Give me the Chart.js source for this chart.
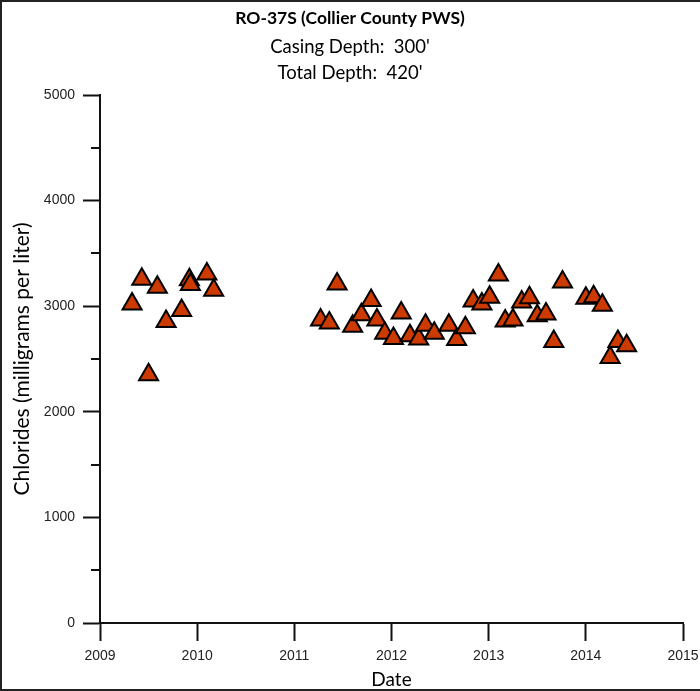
<!DOCTYPE html>
<html lang="en">
<head>
  <meta charset="UTF-8">
  <title>RO-37S Chlorides</title>
  <script src="https://cdn.jsdelivr.net/npm/chart.js"></script>
  <style>
    body {
      margin: 0;
      background: #fff;
    }
    canvas {
      display: block;
    }
  </style>
</head>
<body>
  <canvas id="chlorideChart" width="700" height="691"></canvas>
  <script>
    // sample dates as decimal years
    const sampleYears = [
      2009.33, 2009.43, 2009.50, 2009.59, 2009.68, 2009.84, 2009.92, 2009.93, 2010.10, 2010.17,
      2011.27, 2011.36, 2011.44, 2011.60, 2011.69, 2011.79, 2011.85, 2011.93, 2012.02, 2012.10,
      2012.19, 2012.28, 2012.35, 2012.44, 2012.59, 2012.67, 2012.76, 2012.84, 2012.93, 2013.01,
      2013.10, 2013.17, 2013.25, 2013.34, 2013.42, 2013.50, 2013.59, 2013.67, 2013.76, 2014.00,
      2014.08, 2014.17, 2014.25, 2014.33, 2014.42
    ];
    // chlorides, mg/L
    const chlorides = [
      3020, 3255, 2350, 3180, 2855, 2960, 3250, 3205, 3305, 3150,
      2870, 2840, 3210, 2810, 2920, 3055, 2870, 2745, 2695, 2935,
      2720, 2690, 2820, 2745, 2820, 2685, 2795, 3050, 3020, 3085,
      3295, 2860, 2870, 3040, 3080, 2910, 2925, 2665, 3230, 3075,
      3090, 3010, 2515, 2665, 2625
    ];
    const yearTicks = [2009, 2010, 2011, 2012, 2013, 2014, 2015];
    const minorChlorideTicks = [500, 1500, 2500, 3500, 4500];

    const points = sampleYears.map((yr, i) => ({ x: yr, y: chlorides[i] }));

    // short minor ticks on the y axis and the frame round the picture
    const extrasPlugin = {
      id: "extras",
      afterDraw(chart) {
        const ctx = chart.ctx;
        const yScale = chart.scales.y;
        const left = chart.chartArea.left;
        ctx.save();
        ctx.strokeStyle = "#111";
        ctx.lineWidth = 2;
        minorChlorideTicks.forEach(v => {
          const py = Math.round(yScale.getPixelForValue(v));
          ctx.beginPath();
          ctx.moveTo(left - 9, py);
          ctx.lineTo(left, py);
          ctx.stroke();
        });
        ctx.strokeStyle = "#222";
        ctx.beginPath();
        ctx.moveTo(1, 691);
        ctx.lineTo(1, 1);
        ctx.lineTo(700, 1);
        ctx.moveTo(0, 690);
        ctx.lineTo(700, 690);
        ctx.stroke();
        ctx.restore();
      }
    };

    const titleFont = "Lato, 'Open Sans', sans-serif";
    const tickFont = { family: "'Liberation Sans', Arial, sans-serif", size: 14 };

    new Chart(document.getElementById("chlorideChart"), {
      type: "scatter",
      data: {
        datasets: [{
          label: "Chlorides",
          data: points,
          pointStyle: "triangle",
          pointRadius: 11,
          pointHoverRadius: 11,
          backgroundColor: "rgb(204, 58, 0)",
          borderColor: "#000",
          borderWidth: 2
        }]
      },
      options: {
        responsive: false,
        animation: false,
        layout: { padding: { left: 0, right: 0, top: 0, bottom: 1 } },
        plugins: {
          legend: { display: false },
          tooltip: { enabled: false },
          title: {
            display: true,
            text: "RO-37S (Collier County PWS)",
            color: "#000",
            font: { family: titleFont, size: 17.5, weight: "bold", lineHeight: "23px" },
            padding: { top: 7, bottom: 4 }
          },
          subtitle: {
            display: true,
            text: ["Casing Depth:  300'", "Total Depth:  420'"],
            color: "#000",
            font: { family: titleFont, size: 18.5, lineHeight: "26px" },
            padding: { top: 0, bottom: 9 }
          }
        },
        scales: {
          x: {
            type: "linear",
            min: 2009,
            max: 2015,
            afterBuildTicks: scale => {
              scale.ticks = yearTicks.map(v => ({ value: v }));
            },
            afterFit: scale => {
              scale.height = 67;
              scale.paddingRight = 17;
            },
            ticks: {
              color: "#222",
              font: tickFont,
              padding: 7,
              maxRotation: 0,
              callback: v => String(v)
            },
            grid: {
              drawOnChartArea: false,
              drawTicks: true,
              tickLength: 18,
              tickColor: "#111",
              tickWidth: 2
            },
            border: { display: true, color: "#111", width: 2 },
            title: {
              display: true,
              text: "Date",
              color: "#000",
              font: { family: titleFont, size: 19, lineHeight: "20px" },
              padding: { top: 0, bottom: 0 }
            }
          },
          y: {
            min: 0,
            max: 5000,
            ticks: {
              stepSize: 1000,
              color: "#222",
              font: tickFont,
              padding: 8,
              callback: v => String(v)
            },
            afterFit: scale => { scale.width = 100; },
            grid: {
              drawOnChartArea: false,
              drawTicks: true,
              tickLength: 17,
              tickColor: "#111",
              tickWidth: 2
            },
            border: { display: true, color: "#111", width: 2 },
            title: {
              display: true,
              text: "Chlorides (milligrams per liter)",
              color: "#000",
              font: { family: titleFont, size: 21, lineHeight: "22px" },
              padding: { top: 11, bottom: 0 }
            }
          }
        }
      },
      plugins: [extrasPlugin]
    });
  </script>
</body>
</html>
